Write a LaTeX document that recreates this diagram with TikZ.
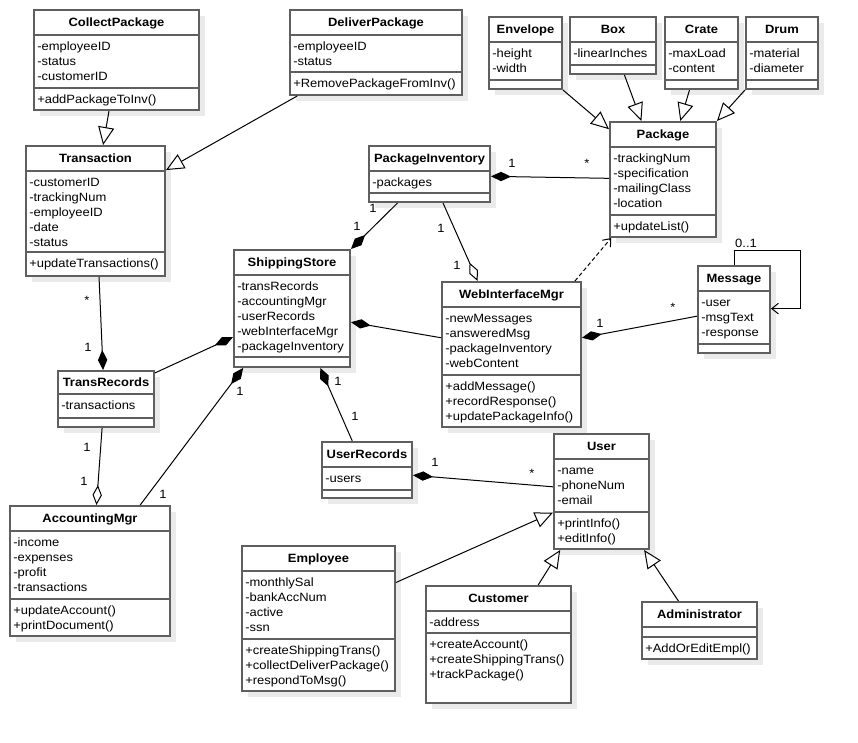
\documentclass[tikz,border=0pt]{standalone}
\usepackage{fontspec}
\setmainfont{Liberation Sans}[FakeStretch=1.08]
\usepackage{tikz}
\usetikzlibrary{arrows.meta,calc,fit}
\definecolor{umlgray}{RGB}{95,95,95}
\definecolor{shadowgray}{RGB}{234,234,234}

\tikzset{
  classbody/.style={draw=umlgray, line width=1.5pt, fill=white, inner sep=0pt},
  classline/.style={draw=umlgray, line width=1.5pt},
  boxshadow/.style={fill=shadowgray},
  classtitle/.style={font=\bfseries\fontsize{9}{11.25}\selectfont, inner sep=0pt, anchor=base},
  classtext/.style={font=\fontsize{9}{11.25}\selectfont, align=left, inner sep=0pt, anchor=north west},
  mult/.style={font=\fontsize{9}{11.25}\selectfont, inner sep=0pt, anchor=base},
  assoc/.style={draw=black, line width=0.75pt},
  inherit/.style={assoc, -{Triangle[open, length=13.5pt, width=12pt]}},
  compose/.style={assoc, {Diamond[length=15pt, width=7pt]}-},
  aggregate/.style={assoc, {Diamond[open, length=15pt, width=7pt]}-},
  depend/.style={assoc, dash pattern={on 3pt off 2pt}, -{Straight Barb[length=5pt, width=8pt]}},
  navig/.style={assoc, -{Straight Barb[length=5pt, width=8pt]}},
}

% class box: name, top left, bottom right, title rule, attribute rule, title, attributes, operations
\newcommand{\classbox}[8]{%
  \fill[boxshadow] ($(#2)+(6,6)$) rectangle ($(#3)+(6,6)$);
  \coordinate (#1-nw) at (#2);
  \coordinate (#1-se) at (#3);
  \node[classbody, fit=(#1-nw)(#1-se)] (#1) {};
  \draw[classline] (#1.west |- 0,#4) -- (#1.east |- 0,#4);
  \draw[classline] (#1.west |- 0,#5) -- (#1.east |- 0,#5);
  \node[classtitle] (#1-title) at ($(#1.north)!.5!(#1.north |- 0,#4)+(0,4.5)$) {#6};
  \node[classtext] (#1-attr) at ($(#1.west |- 0,#4)+(4,4.5)$) {\strut#7};
  \node[classtext] (#1-ops) at ($(#1.west |- 0,#5)+(4,4.5)$) {\strut#8};
}

\begin{document}
\begin{tikzpicture}[x=0.75pt,y=0.75pt,yscale=-1,xscale=1]
\fill[white] (0,0) rectangle (858,743);
\useasboundingbox (0,0) rectangle (858,743);

%Shape: Classes
\classbox{CollectPackage}{34,10}{199,110}{35}{88}{CollectPackage}{-employeeID\\-status\\-customerID}{+addPackageToInv()}
\classbox{DeliverPackage}{290,10}{462,95}{35}{72}{DeliverPackage}{-employeeID\\-status}{+RemovePackageFromInv()}
\classbox{Transaction}{26,146}{165,276}{171}{252}{Transaction}{-customerID\\-trackingNum\\-employeeID\\-date\\-status}{+updateTransactions()}
\classbox{PackageInventory}{369,146}{490,202}{171}{193}{PackageInventory}{-packages}{}
\classbox{Envelope}{489,17}{562,89}{42}{80}{Envelope}{-height\\-width}{}
\classbox{Box}{570,17}{656,74}{42}{65}{Box}{-linearInches}{}
\classbox{Crate}{665,17}{738,89}{42}{80}{Crate}{-maxLoad\\-content}{}
\classbox{Drum}{746,17}{818,89}{42}{80}{Drum}{-material\\-diameter}{}
\classbox{Package}{610,122}{716,237}{147}{215}{Package}{-trackingNum\\-specification\\-mailingClass\\-location}{+updateList()}
\classbox{ShippingStore}{234,250}{350,367}{275}{357}{ShippingStore}{-transRecords\\-accountingMgr\\-userRecords\\-webInterfaceMgr\\-packageInventory}{}
\classbox{TransRecords}{58,371}{154,427}{394}{418}{TransRecords}{-transactions}{}
\classbox{UserRecords}{322,442}{412,498}{467}{490}{UserRecords}{-users}{}
\classbox{WebInterfaceMgr}{442,282}{581,427}{307}{375}{WebInterfaceMgr}{-newMessages\\-answeredMsg\\-packageInventory\\-webContent}{+addMessage()\\+recordResponse()\\+updatePackageInfo()}
\classbox{Message}{698,266}{770,353}{291}{344}{Message}{-user\\-msgText\\-response}{}
\classbox{User}{554,434}{649,549}{459}{512}{User}{-name\\-phoneNum\\-email}{+printInfo()\\+editInfo()}
\classbox{Customer}{426,586}{571,703}{611}{633}{Customer}{-address}{+createAccount()\\+createShippingTrans()\\+trackPackage()}
\classbox{Administrator}{642,602}{757,659}{627}{637}{Administrator}{}{+AddOrEditEmpl()}
\classbox{AccountingMgr}{10,506}{170,636}{531}{599}{AccountingMgr}{-income\\-expenses\\-profit\\-transactions}{+updateAccount()\\+printDocument()}
\classbox{Employee}{242,546}{395,691}{571}{639}{Employee}{-monthlySal\\-bankAccNum\\-active\\-ssn}{+createShippingTrans()\\+collectDeliverPackage()\\+respondToMsg()}

%Straight Lines: generalizations
\draw[inherit] ($(CollectPackage.south west)!.455!(CollectPackage.south east)$) -- ($(Transaction.north west)!.554!(Transaction.north east)$);
\draw[inherit] ($(DeliverPackage.south west)!.047!(DeliverPackage.south east)$) -- ($(Transaction.north east)!.19!(Transaction.south east)$);
\draw[inherit] (Envelope.south east) -- ($(Package.north west)!.07!(Package.south west)$);
\draw[inherit] ($(Box.south west)!.63!(Box.south east)$) -- ($(Package.north west)!.3!(Package.north east)$);
\draw[inherit] ($(Crate.south west)!.34!(Crate.south east)$) -- ($(Package.north west)!.66!(Package.north east)$);
\draw[inherit] (Drum.south west) -- (Package.north east);
\draw[inherit] ($(Employee.north east)!.255!(Employee.south east)$) -- ($(User.north west)!.68!(User.south west)$);
\draw[inherit] ($(Customer.north west)!.77!(Customer.north east)$) -- ($(User.south west)!.074!(User.south east)$);
\draw[inherit] ($(Administrator.north west)!.32!(Administrator.north east)$) -- ($(User.south west)!.94!(User.south east)$);

%Straight Lines: compositions and aggregations
\draw[compose] ($(PackageInventory.north east)!.54!(PackageInventory.south east)$) -- ($(Package.north west)!.49!(Package.south west)$);
\draw[compose] (ShippingStore.north east) -- ($(PackageInventory.south west)!.24!(PackageInventory.south east)$);
\draw[aggregate] ($(WebInterfaceMgr.north west)!.26!(WebInterfaceMgr.north east)$) -- ($(PackageInventory.south west)!.61!(PackageInventory.south east)$);
\draw[compose] ($(WebInterfaceMgr.north east)!.386!(WebInterfaceMgr.south east)$) -- ($(Message.north west)!.575!(Message.south west)$);
\draw[compose] ($(ShippingStore.north east)!.615!(ShippingStore.south east)$) -- ($(WebInterfaceMgr.north west)!.386!(WebInterfaceMgr.south west)$);
\draw[compose] ($(ShippingStore.north west)!.74!(ShippingStore.south west)$) -- ($(TransRecords.north east)!.05!(TransRecords.south east)$);
\draw[compose] ($(TransRecords.north west)!.47!(TransRecords.north east)$) -- ($(Transaction.south west)!.525!(Transaction.south east)$);
\draw[aggregate] ($(AccountingMgr.north west)!.54!(AccountingMgr.north east)$) -- ($(TransRecords.south west)!.46!(TransRecords.south east)$);
\draw[compose] ($(ShippingStore.south west)!.086!(ShippingStore.south east)$) -- ($(AccountingMgr.north west)!.81!(AccountingMgr.north east)$);
\draw[compose] ($(ShippingStore.south west)!.74!(ShippingStore.south east)$) -- ($(UserRecords.north west)!.34!(UserRecords.north east)$);
\draw[compose] ($(UserRecords.north east)!.59!(UserRecords.south east)$) -- ($(User.north west)!.46!(User.south west)$);

%Straight Lines: dependency
\draw[depend] ($(WebInterfaceMgr.north west)!.95!(WebInterfaceMgr.north east)$) -- ($(Package.south west)!.02!(Package.south east)$);

%Self association on Message
\coordinate (msgloop) at (800,250);
\draw[navig] (Message.north) |- (msgloop) |- ($(Message.north east)!.49!(Message.south east)$);

% Text Node: multiplicities
\node[mult] (mPI1) at (512,167) {1};
\node[mult] (mPK1) at (587,167) {*};
\node[mult] (mPI2) at (373,212) {1};
\node[mult] (mSS1) at (357,230) {1};
\node[mult] (mPI3) at (441,232) {1};
\node[mult] (mWI1) at (457,269) {1};
\node[mult] (mWI2) at (600,327) {1};
\node[mult] (mMS1) at (673,311) {*};
\node[mult] (mMS2) at (746,247) {0..1};
\node[mult] (mTR1) at (87,304) {*};
\node[mult] (mTR2) at (88,351) {1};
\node[mult] (mTR3) at (87,451) {1};
\node[mult] (mAM1) at (84,485) {1};
\node[mult] (mSS2) at (240,395) {1};
\node[mult] (mAM2) at (163,498) {1};
\node[mult] (mSS3) at (338,385) {1};
\node[mult] (mUR1) at (355,420) {1};
\node[mult] (mUR2) at (435,466) {1};
\node[mult] (mUS1) at (532,477) {*};

\end{tikzpicture}
\end{document}
